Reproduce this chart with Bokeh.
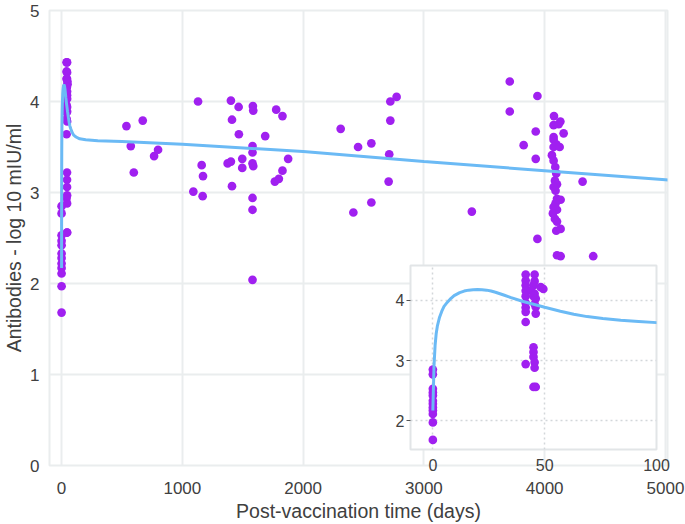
from bokeh.plotting import figure
from bokeh.layouts import column
from bokeh.models import ColumnDataSource, Range1d, FixedTicker
from bokeh.embed import file_html
from bokeh.resources import INLINE

# ---------------- data ----------------
days = [
    0, 0, 0, 0, 0, 0, 0, 0, 0, 0, 0, 0,
    41.5, 45.5, 41.5, 45.5, 41.5, 45, 48.2, 49.4, 41.5, 44, 45.5, 41.5, 45, 46,
    41.5, 45.5, 41.5, 46, 41.5, 46, 41.5, 45, 45, 45, 41.5, 45.5, 45.5, 45, 46,
    537, 672, 573, 799, 766, 598,
    1130, 1160, 1171, 1091, 1168,
    1402, 1466, 1584, 1587, 1777, 1829, 1411, 1468, 1686, 1581, 1581, 1375, 1402,
    1496, 1496, 1581, 1587, 1876, 1829, 1799, 1766, 1411, 1581, 1581, 1581,
    2311, 2455, 2565, 2416, 2565, 2722, 2774, 2722, 2713, 2708, 3397,
    3711, 3940, 3711, 3926, 3826, 3926,
    4077, 4130, 4116, 4074, 4157, 4074, 4074, 4096, 4074, 4124, 4060, 4074, 4088,
    4096, 4314, 4085, 4102, 4074, 4090, 4102, 4132, 4090, 4074, 4102, 4068, 4085,
    4102, 4096, 4132, 3940, 4102, 4132, 4402,
]
titer = [
    2.85, 2.77, 2.53, 2.47, 2.42, 2.33, 2.28, 2.22, 2.17, 2.11, 1.97, 1.68,
    4.43, 4.43, 4.33, 4.32, 4.25, 4.25, 4.22, 4.19, 4.16, 4.16, 4.11, 4.07, 4.07, 4.03,
    3.96, 3.94, 3.88, 3.89, 3.81, 3.78, 3.64, 3.22, 3.14, 3.06, 2.94, 2.97, 2.88, 2.56, 2.56,
    3.73, 3.79, 3.51, 3.47, 3.40, 3.22,
    4.00, 3.30, 3.18, 3.01, 2.96,
    4.01, 3.94, 3.95, 3.90, 3.91, 3.84, 3.80, 3.64, 3.62, 3.51, 3.44, 3.32, 3.34,
    3.37, 3.27, 3.32, 3.29, 3.37, 3.24, 3.15, 3.12, 3.07, 2.94, 2.81, 2.04,
    3.70, 3.50, 3.54, 2.78, 2.89, 4.00, 4.05, 3.79, 3.42, 3.12, 2.79,
    4.22, 4.06, 3.89, 3.67, 3.52, 3.37,
    3.84, 3.78, 3.75, 3.74, 3.65, 3.61, 3.58, 3.53, 3.50, 3.50, 3.41, 3.35, 3.28,
    3.21, 3.12, 3.13, 3.09, 3.06, 3.02, 2.93, 2.92, 2.88, 2.84, 2.81, 2.77, 2.71,
    2.68, 2.58, 2.60, 2.49, 2.31, 2.30, 2.30,
]

fit_days = [0, 0.5, 1, 1.5, 2, 3, 4, 5, 6.5, 8, 9.5, 12, 14, 16, 18, 20, 22, 24,
            26, 28, 30, 32, 35, 40, 45, 50, 57, 63, 69, 76, 84, 92, 100, 120, 150,
            200, 300, 500, 1000, 2000, 3000, 4000, 5000, 5100]
fit_titer = [2.17, 2.90, 3.25, 3.45, 3.57, 3.72, 3.82, 3.90, 3.97, 4.03, 4.08, 4.13,
             4.155, 4.17, 4.178, 4.18, 4.178, 4.17, 4.155, 4.135, 4.11, 4.085, 4.045,
             3.985, 3.935, 3.885, 3.82, 3.77, 3.73, 3.70, 3.67, 3.65, 3.63, 3.61,
             3.59, 3.58, 3.57, 3.56, 3.53, 3.45, 3.34, 3.24, 3.14, 3.13]

x_ticks = [0, 1000, 2000, 3000, 4000, 5000]
y_ticks = [0, 1, 2, 3, 4, 5]
inset_x_ticks = [0, 50, 100]
inset_y_ticks = [2, 3, 4]

x_title = "Post-vaccination time (days)"
y_title = "Antibodies - log 10 mIU/ml"

# ---------------- style ----------------
POINT = "#A020F0"
LINE = "#6BBAF5"
TXT = "#404040"
GRID = "#EAEDEE"
FONT = "Liberation Sans"

pts = ColumnDataSource(dict(x=days, y=titer))
fit = ColumnDataSource(dict(x=fit_days, y=fit_titer))

# ---------------- main ----------------
p = figure(width=685, height=524, x_range=Range1d(-100, 5017), y_range=Range1d(0, 5),
           output_backend="svg", toolbar_location=None,
           min_border_left=49, min_border_right=18, min_border_top=10, min_border_bottom=58,
           background_fill_color="white", border_fill_color="white")
p.scatter("x", "y", source=pts, size=8.7, color=POINT, line_color=None)
p.line("x", "y", source=fit, line_color=LINE, line_width=3)

p.outline_line_color = GRID
p.outline_line_width = 2
for g in (p.xgrid, p.ygrid):
    g.grid_line_color = GRID
    g.grid_line_width = 2
p.xaxis.ticker = FixedTicker(ticks=x_ticks)
p.yaxis.ticker = FixedTicker(ticks=y_ticks)
for ax in (p.xaxis, p.yaxis):
    ax.axis_line_color = None
    ax.major_tick_line_color = None
    ax.minor_tick_line_color = None
    ax.major_label_text_font = FONT
    ax.major_label_text_font_size = "17px"
    ax.major_label_text_color = TXT
    ax.axis_label_text_font = FONT
    ax.axis_label_text_font_size = "19.5px"
    ax.axis_label_text_font_style = "normal"
    ax.axis_label_text_color = TXT
p.xaxis.axis_label = x_title
p.yaxis.axis_label = y_title
p.xaxis.major_label_standoff = 10
p.xaxis.axis_label_standoff = 3
p.yaxis.major_label_standoff = 4
p.yaxis.axis_label_standoff = 2

# ---------------- inset ----------------
# plots stacked in a column share left/right border widths (49 / 18)
q = figure(width=49 + 246 + 18, height=210, x_range=Range1d(-10, 100),
           y_range=Range1d(1.52, 4.58),
           output_backend="svg", toolbar_location=None,
           min_border_left=16, min_border_right=14, min_border_top=2, min_border_bottom=24,
           background_fill_color="white", border_fill_color=None)
q.scatter("x", "y", source=pts, size=8.7, color=POINT, line_color=None)
q.line("x", "y", source=fit, line_color=LINE, line_width=3)
q.outline_line_color = "#E2E5E7"
q.outline_line_width = 2
for g in (q.xgrid, q.ygrid):
    g.grid_line_color = "#D3D7DA"
    g.grid_line_width = 1.5
    g.grid_line_dash = "2 3"
q.xaxis.ticker = FixedTicker(ticks=inset_x_ticks)
q.yaxis.ticker = FixedTicker(ticks=inset_y_ticks)
for ax in (q.xaxis, q.yaxis):
    ax.axis_line_color = None
    ax.minor_tick_line_color = None
    ax.major_label_text_font = FONT
    ax.major_label_text_font_size = "16px"
    ax.major_label_text_color = TXT
q.xaxis.major_tick_line_color = None
q.xaxis.major_label_standoff = 3
q.yaxis.major_tick_line_color = "#555555"
q.yaxis.major_tick_in = 0
q.yaxis.major_tick_out = 4
q.yaxis.major_label_standoff = 2

q.margin = (-261, 0, 0, 410 - 49)

layout = column(p, q)
open("out.html", "w").write(file_html(layout, INLINE))
